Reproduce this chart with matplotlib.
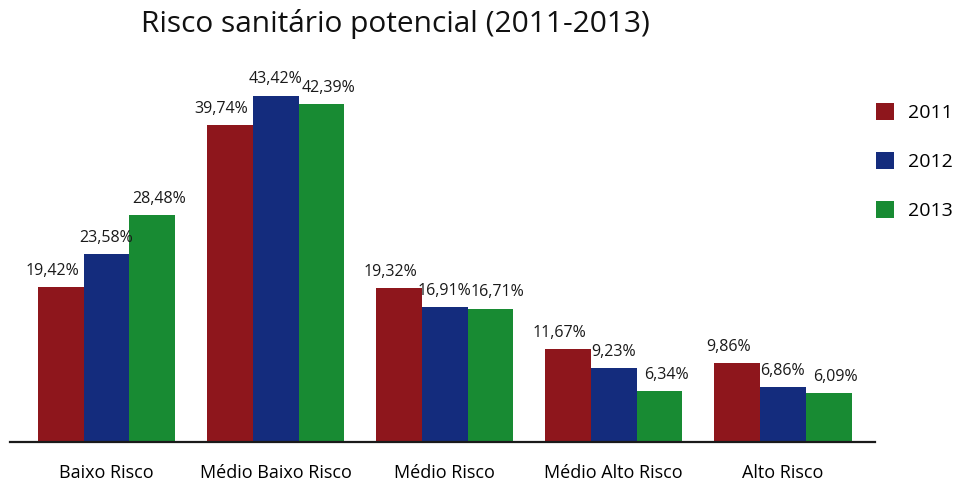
import numpy as np
import matplotlib.pyplot as plt

# dados do gráfico
categorias = ['Baixo Risco', 'Médio Baixo Risco', 'Médio Risco', 'Médio Alto Risco', 'Alto Risco']
anos = ['2011', '2012', '2013']
v2011 = [19.42, 39.74, 19.32, 11.67, 9.86]
v2012 = [23.58, 43.42, 16.91, 9.23, 6.86]
v2013 = [28.48, 42.39, 16.71, 6.34, 6.09]
cores = ['#8E161C', '#142C7D', '#188B33']

plt.rcParams['font.family'] = ['Open Sans', 'DejaVu Sans']

fig = plt.figure(figsize=(9.54, 4.82), dpi=100)
ax = fig.add_axes([10 / 954, 40 / 482, 865 / 954, 382 / 482])

x = np.arange(len(categorias))
largura = 0.272
series = [v2011, v2012, v2013]
desloc = [-6, 0, 5]  # rótulos do 1º ano à esquerda, do 3º à direita

for i, (vals, cor, ano) in enumerate(zip(series, cores, anos)):
    pos = x + (i - 1) * largura
    barras = ax.bar(pos, vals, width=largura, color=cor, label=ano, linewidth=0)
    for b, v in zip(barras, vals):
        ax.annotate(f'{v:.2f}%'.replace('.', ','),
                    (b.get_x() + b.get_width() / 2, b.get_height()),
                    xytext=(desloc[i], 6), textcoords='offset points',
                    ha='center', va='bottom', fontsize=11.5, color='#1a1a1a')

ax.set_xlim(-0.571, 4.547)
ax.set_ylim(0, 47.9)
ax.set_xticks(x)
ax.set_xticklabels(categorias, fontsize=13)
ax.tick_params(axis='x', length=0, pad=16)
ax.set_yticks([])
for lado in ['top', 'right', 'left']:
    ax.spines[lado].set_visible(False)
ax.spines['bottom'].set_linewidth(1.6)
ax.spines['bottom'].set_color('#1a1a1a')

fig.text(0.415, 0.95, 'Risco sanitário potencial (2011-2013)', ha='center', va='center',
         fontsize=21.5, color='#111111')

fig.legend(loc='upper left', bbox_to_anchor=(868 / 954, 1 - 95 / 482), frameon=False,
           fontsize=14, handlelength=0.95, handleheight=0.95, handletextpad=0.7,
           labelspacing=1.55, borderaxespad=0)

fig.savefig('out.png', dpi=100)
